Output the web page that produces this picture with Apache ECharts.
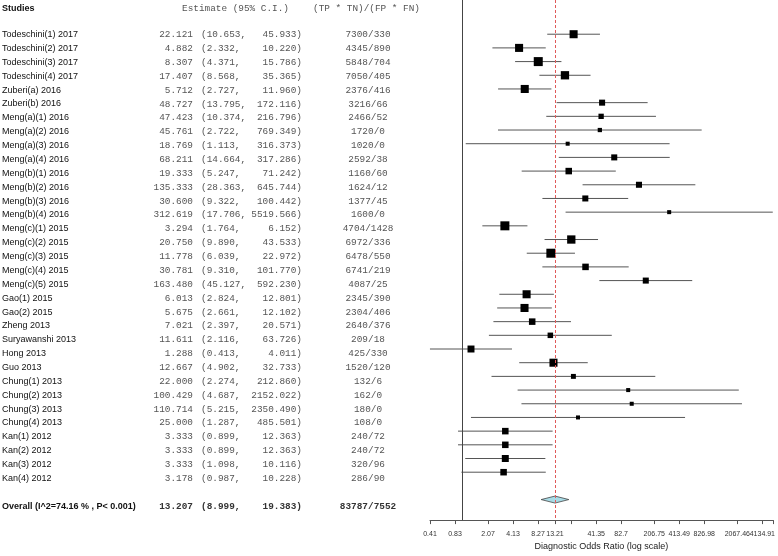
<!DOCTYPE html>
<html><head><meta charset="utf-8">
<script src="https://cdn.jsdelivr.net/npm/echarts@6/dist/echarts.min.js"></script>
<style>html,body{margin:0;padding:0;background:#fff}#c{width:778px;height:556px}</style>
</head><body><div id="c"></div>
<script>
// ---------- DATA ----------
const studies = ['Todeschini(1) 2017','Todeschini(2) 2017','Todeschini(3) 2017','Todeschini(4) 2017','Zuberi(a) 2016','Zuberi(b) 2016',
  'Meng(a)(1) 2016','Meng(a)(2) 2016','Meng(a)(3) 2016','Meng(a)(4) 2016','Meng(b)(1) 2016','Meng(b)(2) 2016','Meng(b)(3) 2016','Meng(b)(4) 2016',
  'Meng(c)(1) 2015','Meng(c)(2) 2015','Meng(c)(3) 2015','Meng(c)(4) 2015','Meng(c)(5) 2015','Gao(1) 2015','Gao(2) 2015','Zheng 2013',
  'Suryawanshi 2013','Hong 2013','Guo 2013','Chung(1) 2013','Chung(2) 2013','Chung(3) 2013','Chung(4) 2013','Kan(1) 2012','Kan(2) 2012','Kan(3) 2012','Kan(4) 2012'];
const estimates = [22.121,4.882,8.307,17.407,5.712,48.727,47.423,45.761,18.769,68.211,19.333,135.333,30.600,312.619,
  3.294,20.750,11.778,30.781,163.480,6.013,5.675,7.021,11.611,1.288,12.667,22.000,100.429,110.714,25.000,3.333,3.333,3.333,3.178];
const ciLower = [10.653,2.332,4.371,8.568,2.727,13.795,10.374,2.722,1.113,14.664,5.247,28.363,9.322,17.706,
  1.764,9.890,6.039,9.310,45.127,2.824,2.661,2.397,2.116,0.413,4.902,2.274,4.687,5.215,1.287,0.899,0.899,1.098,0.987];
const ciUpper = [45.933,10.220,15.786,35.365,11.960,172.116,216.796,769.349,316.373,317.286,71.242,645.744,100.442,5519.566,
  6.152,43.533,22.972,101.770,592.230,12.801,12.102,20.571,63.726,4.011,32.733,212.860,2152.022,2350.490,485.501,12.363,12.363,10.116,10.228];
const ratios = ['7300/330','4345/890','5848/704','7050/405','2376/416','3216/66','2466/52','1720/0','1020/0','2592/38','1160/60','1624/12','1377/45','1600/0',
  '4704/1428','6972/336','6478/550','6741/219','4087/25','2345/390','2304/406','2640/376','209/18','425/330','1520/120','132/6','162/0','180/0','108/0',
  '240/72','240/72','320/96','286/90'];
const weights = [3.2,3.2,4.0,3.4,3.2,1.8,1.4,0.9,0.8,1.8,2.1,1.8,1.8,0.8,4.0,3.4,4.0,2.1,1.8,3.2,3.2,2.1,1.5,2.4,3.2,1.2,0.8,0.8,0.8,2.1,2.1,2.4,2.1];
const overallLabel = 'Overall (I^2=74.16 % , P< 0.001)';
const overallEstimate = 13.207, overallLower = 8.999, overallUpper = 19.383;
const overallRatio = '83787/7552';
const headers = ['Studies','Estimate (95% C.I.)','(TP * TN)/(FP * FN)'];
const axisTitle = 'Diagnostic Odds Ratio (log scale)';
const tickValues = [0.4134913,0.8269826,2.0674565,4.134913,8.269826,13.207,20.674565,41.34913,82.69826,206.74565,413.4913,826.9826,2067.4565,4134.913,5519.566];
const tickLabels = ['0.41','0.83','2.07','4.13','8.27','13.21','','41.35','82.7','206.75','413.49','826.98','2067.46','4134.91',''];
const axisMinValue = 0.4134913, axisMaxValue = 5519.566;

// ---------- BUILD ----------
const L = Math.log;
const OVERALL_ROW = studies.length + 2;
const SANS = '"Liberation Sans", Arial, sans-serif';
const MONO = '"Liberation Mono", "Courier New", monospace';
const NAME_COLOR = '#111', MONO_COLOR = '#555';

const texts = [];
function t(x, y, text, align, font, fill) { texts.push({value:[x, y], text, align, font, fill}); }
t(2, -0.9, headers[0], 'left', 'bold 9px ' + SANS, '#111');
t(182, -0.9, headers[1], 'left', '9.4px ' + MONO, MONO_COLOR);
t(313, -0.9, headers[2], 'left', '9.4px ' + MONO, MONO_COLOR);
studies.forEach((s, i) => {
  const r = i + 1;
  t(2, r, s, 'left', '9px ' + SANS, NAME_COLOR);
  t(193, r, estimates[i].toFixed(3), 'right', '9.4px ' + MONO, MONO_COLOR);
  t(201, r, '(' + ciLower[i].toFixed(3) + ',', 'left', '9.4px ' + MONO, MONO_COLOR);
  t(302, r, ciUpper[i].toFixed(3) + ')', 'right', '9.4px ' + MONO, MONO_COLOR);
  t(368, r, ratios[i], 'center', '9.4px ' + MONO, MONO_COLOR);
});
t(2, OVERALL_ROW, overallLabel, 'left', 'bold 9px ' + SANS, '#111');
t(193, OVERALL_ROW, overallEstimate.toFixed(3), 'right', 'bold 9.4px ' + MONO, '#333');
t(201, OVERALL_ROW, '(' + overallLower.toFixed(3) + ',', 'left', 'bold 9.4px ' + MONO, '#333');
t(302, OVERALL_ROW, overallUpper.toFixed(3) + ')', 'right', 'bold 9.4px ' + MONO, '#333');
t(368, OVERALL_ROW, overallRatio, 'center', 'bold 9.4px ' + MONO, '#333');

const lnTicks = tickValues.map(L);
const labelled = lnTicks.map((v, i) => i).filter(i => tickLabels[i] !== '');
// alternate labels between two overlaid axes so adjacent, overlapping labels are both drawn
const labelTicksA = labelled.filter((i, k) => k % 2 === 0).map(i => lnTicks[i]);
const labelTicksB = labelled.filter((i, k) => k % 2 === 1).map(i => lnTicks[i]);
const fmt = v => { let best = 0; lnTicks.forEach((tv, i) => { if (Math.abs(tv - v) < Math.abs(lnTicks[best] - v)) best = i; }); return tickLabels[best]; };
const labelStyle = {fontSize:7, color:'#333', fontFamily:SANS, margin:10, hideOverlap:false, showMinLabel:true, showMaxLabel:true, formatter: fmt};

const yAxisBase = {type:'value', inverse:true, min:-1.5, max:36.5, show:false};

const option = {
  animation: false,
  backgroundColor: '#fff',
  grid: [
    {left:0, top:0, width:430, height:527},
    {left:430, top:0, width:345.5, height:527}
  ],
  xAxis: [
    {gridIndex:0, type:'value', min:0, max:430, show:false},
    {gridIndex:1, type:'value', min:L(axisMinValue), max:L(axisMaxValue), position:'bottom', offset:0,
     splitLine:{show:false},
     axisLine:{show:true, onZero:false, lineStyle:{color:'#555', width:1}},
     axisTick:{show:true, length:4, lineStyle:{color:'#555'}, customValues: lnTicks},
     axisLabel:Object.assign({show:true, customValues: labelTicksA}, labelStyle),
     name: axisTitle, nameLocation:'middle', nameGap:19,
     nameTextStyle:{fontSize:9, color:'#222', fontFamily:SANS}},
    {gridIndex:1, type:'value', min:L(axisMinValue), max:L(axisMaxValue), position:'bottom', offset:0,
     splitLine:{show:false},
     axisLine:{show:false, onZero:false},
     axisTick:{show:false},
     axisLabel:Object.assign({show:true, customValues: labelTicksB}, labelStyle)}
  ],
  yAxis: [Object.assign({gridIndex:0}, yAxisBase), Object.assign({gridIndex:1}, yAxisBase)],
  series: [
    {type:'custom', xAxisIndex:0, yAxisIndex:0, clip:false, silent:true,
     data: texts.map(d => d.value),
     renderItem: (params, api) => {
       const d = texts[params.dataIndex];
       const p = api.coord([api.value(0), api.value(1)]);
       return {type:'text', x:p[0], y:p[1], style:{text:d.text, font:d.font, fill:d.fill, align:d.align, verticalAlign:'middle'}};
     }},
    {type:'custom', xAxisIndex:1, yAxisIndex:1, clip:false, silent:true,
     data: studies.map((s, i) => [L(ciLower[i]), L(ciUpper[i]), i + 1]),
     renderItem: (params, api) => {
       const a = api.coord([api.value(0), api.value(2)]);
       const b = api.coord([api.value(1), api.value(2)]);
       return {type:'line', shape:{x1:a[0], y1:a[1], x2:b[0], y2:b[1]}, style:{stroke:'#555', lineWidth:1}};
     }},
    {type:'scatter', xAxisIndex:1, yAxisIndex:1, silent:true, symbol:'rect',
     data: estimates.map((e, i) => [L(e), i + 1]),
     symbolSize: (val, params) => 4.5 * Math.sqrt(weights[params.dataIndex]),
     itemStyle:{color:'#000', opacity:1},
     markLine:{silent:true, symbol:'none', label:{show:false}, animation:false,
       data:[
         {xAxis: L(1), lineStyle:{color:'#444', type:'solid', width:1}},
         {xAxis: L(overallEstimate), lineStyle:{color:'#e05a5a', type:[3,2], width:1}}
       ]}},
    {type:'custom', xAxisIndex:1, yAxisIndex:1, clip:false, silent:true,
     data: [[L(overallLower), L(overallEstimate), L(overallUpper), OVERALL_ROW]],
     renderItem: (params, api) => {
       const row = api.value(3);
       const lo = api.coord([api.value(0), row]);
       const md = api.coord([api.value(1), row]);
       const hi = api.coord([api.value(2), row]);
       const h = 3.5;
       return {type:'polygon', shape:{points:[[lo[0], lo[1]], [md[0], md[1] - h], [hi[0], hi[1]], [md[0], md[1] + h]]},
         style:{fill:'#a8dbe6', stroke:'#444', lineWidth:0.8}};
     }}
  ]
};
const chart = echarts.init(document.getElementById('c'), null, {renderer:'canvas'});
chart.setOption(option);
</script>
</body></html>
